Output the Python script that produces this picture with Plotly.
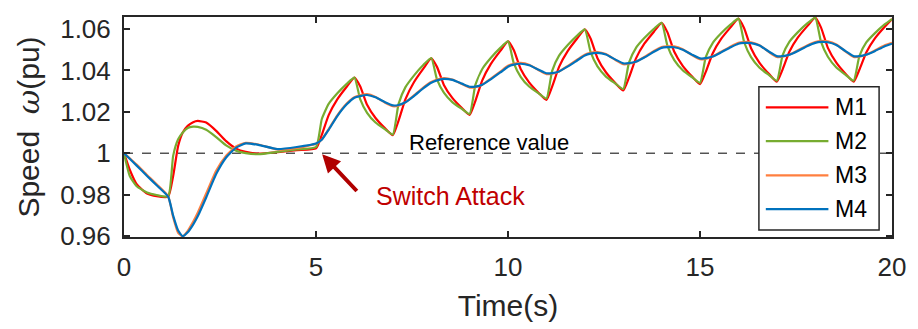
import plotly.graph_objects as go

# ---------------- data ----------------
time = [0, 0.15, 0.33, 0.6, 0.85, 1.15, 1.28, 1.41, 1.53, 1.66, 1.8, 1.92, 2.14, 2.4, 2.66, 2.92, 3.17, 3.5, 4.0, 4.5,
        5, 5.15, 5.33, 5.55, 5.8,
        6, 6.15, 6.33, 6.55, 6.8,
        7, 7.15, 7.33, 7.55, 7.8,
        8, 8.15, 8.33, 8.55, 8.8,
        9, 9.15, 9.33, 9.55, 9.8,
        10, 10.15, 10.33, 10.55, 10.8,
        11, 11.15, 11.33, 11.55, 11.8,
        12, 12.15, 12.33, 12.55, 12.8,
        13, 13.15, 13.33, 13.55, 13.8,
        14, 14.15, 14.33, 14.55, 14.8,
        15, 15.15, 15.33, 15.55, 15.8,
        16, 16.15, 16.33, 16.55, 16.8,
        17, 17.15, 17.33, 17.55, 17.8,
        18, 18.15, 18.33, 18.55, 18.8,
        19, 19.15, 19.33, 19.55, 19.8,
        20]

m1_speed = [1.0, 0.992, 0.985, 0.9805, 0.9792, 0.979, 0.989, 1.0035, 1.010, 1.0132, 1.015, 1.0156, 1.0148, 1.0108, 1.0058, 1.0022, 1.0006, 0.9998, 1.0005, 1.0015,
            1.0023, 1.0088, 1.0184, 1.0259, 1.0321,
            1.0365, 1.0323, 1.0234, 1.0170, 1.0120,
            1.0087, 1.0157, 1.0261, 1.0343, 1.0410,
            1.0458, 1.0417, 1.0330, 1.0267, 1.0218,
            1.0185, 1.0252, 1.0352, 1.0430, 1.0494,
            1.0540, 1.0498, 1.0407, 1.0342, 1.0291,
            1.0257, 1.0322, 1.0417, 1.0492, 1.0554,
            1.0598, 1.0554, 1.0459, 1.0391, 1.0338,
            1.0303, 1.0365, 1.0457, 1.0529, 1.0587,
            1.0630, 1.0585, 1.0490, 1.0422, 1.0369,
            1.0333, 1.0393, 1.0482, 1.0552, 1.0609,
            1.0650, 1.0604, 1.0507, 1.0436, 1.0382,
            1.0345, 1.0404, 1.0491, 1.0559, 1.0615,
            1.0655, 1.0608, 1.0509, 1.0438, 1.0382,
            1.0345, 1.0403, 1.0487, 1.0554, 1.0609,
            1.0648]

m2_speed = [1.0, 0.989, 0.984, 0.981, 0.9798, 0.9791, 0.9987, 1.0067, 1.0100, 1.0122, 1.0128, 1.0127, 1.0113, 1.0078, 1.0038, 1.0012, 1.0000, 0.9995, 1.0006, 1.0018,
            1.0030, 1.0164, 1.0238, 1.0288, 1.0335,
            1.0365, 1.0261, 1.0195, 1.0148, 1.0115,
            1.0090, 1.0238, 1.0319, 1.0375, 1.0427,
            1.0460, 1.0357, 1.0293, 1.0247, 1.0214,
            1.0190, 1.0330, 1.0407, 1.0460, 1.0509,
            1.0540, 1.0435, 1.0369, 1.0322, 1.0289,
            1.0264, 1.0398, 1.0471, 1.0521, 1.0568,
            1.0598, 1.0489, 1.0419, 1.0370, 1.0336,
            1.0310, 1.0438, 1.0508, 1.0556, 1.0601,
            1.0630, 1.0520, 1.0450, 1.0401, 1.0366,
            1.0340, 1.0464, 1.0532, 1.0579, 1.0622,
            1.0650, 1.0536, 1.0464, 1.0413, 1.0377,
            1.0350, 1.0472, 1.0539, 1.0585, 1.0628,
            1.0655, 1.0539, 1.0466, 1.0414, 1.0377,
            1.0350, 1.0469, 1.0535, 1.0579, 1.0621,
            1.0648]

m3_speed = [1.0, 0.9975, 0.9945, 0.9895, 0.985, 0.9792, 0.969, 0.9615, 0.9598, 0.9625, 0.9668, 0.9712, 0.9805, 0.9915, 0.9988, 1.0033, 1.0050, 1.0042, 1.0018, 1.0025,
            1.0045, 1.0066, 1.0116, 1.0182, 1.0240,
            1.0271, 1.0280, 1.0285, 1.0272, 1.0244,
            1.0227, 1.0230, 1.0246, 1.0279, 1.0318,
            1.0344, 1.0356, 1.0363, 1.0356, 1.0334,
            1.0317, 1.0319, 1.0331, 1.0360, 1.0394,
            1.0422, 1.0432, 1.0436, 1.0427, 1.0401,
            1.0382, 1.0384, 1.0395, 1.0421, 1.0452,
            1.0476, 1.0485, 1.0489, 1.0479, 1.0450,
            1.0430, 1.0432, 1.0442, 1.0465, 1.0494,
            1.0513, 1.0516, 1.0516, 1.0502, 1.0473,
            1.0454, 1.0456, 1.0467, 1.0490, 1.0516,
            1.0533, 1.0537, 1.0536, 1.0522, 1.0488,
            1.0465, 1.0466, 1.0476, 1.0497, 1.0522,
            1.0537, 1.0542, 1.0540, 1.0525, 1.0490,
            1.0465, 1.0466, 1.0476, 1.0496, 1.0520,
            1.0533]

m4_speed = [1.0, 0.9973, 0.994, 0.989, 0.9845, 0.979, 0.9698, 0.9626, 0.9599, 0.9618, 0.9655, 0.9695, 0.9786, 0.9899, 0.9979, 1.0027, 1.0047, 1.0040, 1.0020, 1.0030,
            1.0047, 1.0065, 1.0113, 1.0178, 1.0236,
            1.0268, 1.0276, 1.0281, 1.0270, 1.0246,
            1.0231, 1.0233, 1.0246, 1.0276, 1.0314,
            1.0340, 1.0352, 1.0359, 1.0354, 1.0336,
            1.0321, 1.0322, 1.0331, 1.0357, 1.0390,
            1.0418, 1.0428, 1.0432, 1.0425, 1.0403,
            1.0386, 1.0387, 1.0395, 1.0418, 1.0448,
            1.0472, 1.0481, 1.0485, 1.0477, 1.0452,
            1.0434, 1.0435, 1.0442, 1.0462, 1.0490,
            1.0509, 1.0512, 1.0512, 1.0500, 1.0475,
            1.0458, 1.0459, 1.0467, 1.0487, 1.0512,
            1.0529, 1.0533, 1.0532, 1.0520, 1.0490,
            1.0469, 1.0469, 1.0476, 1.0494, 1.0518,
            1.0533, 1.0538, 1.0536, 1.0523, 1.0492,
            1.0469, 1.0469, 1.0476, 1.0493, 1.0516,
            1.0529]

series_names = ["M1", "M2", "M3", "M4"]
series_colors = ["#FF0000", "#77AC30", "#FF7F3F", "#0072BD"]
reference_value = 1.0
x_ticks = [0, 5, 10, 15, 20]
y_ticks = [0.96, 0.98, 1.0, 1.02, 1.04, 1.06]
y_tick_text = ["0.96", "0.98", "1", "1.02", "1.04", "1.06"]

# ---------------- figure ----------------
AX = "#262626"
FONT = "Arial, Liberation Sans, Helvetica, sans-serif"

fig = go.Figure()

# reference dashed line
fig.add_trace(go.Scatter(x=[x_ticks[0], x_ticks[-1]], y=[reference_value, reference_value],
                         mode="lines", line=dict(color="black", width=1, dash="dash"),
                         showlegend=False, hoverinfo="skip"))

for name, vals, col in zip(series_names, [m1_speed, m2_speed, m3_speed, m4_speed], series_colors):
    fig.add_trace(go.Scatter(x=time, y=vals, mode="lines", name=name,
                             line=dict(color=col, width=2.2, shape="spline", smoothing=0.5),
                             showlegend=False))

# custom legend (box + long sample lines + labels), like the MATLAB legend
L_x0, L_x1, L_y0, L_y1 = 0.8267, 0.9832, 0.0317, 0.6833
line_x0, line_x1, text_x = 0.8357, 0.9172, 0.9237
entry_y = [0.5896, 0.4357, 0.2805, 0.1267]
shapes = [dict(type="rect", xref="paper", yref="paper", x0=L_x0, x1=L_x1, y0=L_y0, y1=L_y1,
               fillcolor="white", line=dict(color=AX, width=1.5), layer="above")]
annotations = []
for name, col, ey in zip(series_names, series_colors, entry_y):
    shapes.append(dict(type="line", xref="paper", yref="paper", x0=line_x0, x1=line_x1, y0=ey, y1=ey,
                       line=dict(color=col, width=2.2), layer="above"))
    annotations.append(dict(xref="paper", yref="paper", x=text_x, y=ey, text=name, showarrow=False,
                            xanchor="left", yanchor="middle", font=dict(family=FONT, size=23, color="black")))

# text annotations
annotations.append(dict(x=9.5, y=1.0053, xref="x", yref="y", text="Reference value", showarrow=False,
                        font=dict(family=FONT, size=22, color="black"), xanchor="center", yanchor="middle"))
annotations.append(dict(x=8.49, y=0.9793, xref="x", yref="y", text="Switch Attack", showarrow=False,
                        font=dict(family=FONT, size=25, color="#C00000"), xanchor="center", yanchor="middle"))
annotations.append(dict(x=5.16, y=0.9995, xref="x", yref="y", ax=6.1, ay=0.981, axref="x", ayref="y",
                        text="", showarrow=True, arrowhead=2, arrowsize=0.9, arrowwidth=4,
                        arrowcolor="#B00000"))

fig.update_layout(
    width=918, height=329,
    margin=dict(l=124, r=21, t=17, b=91),
    paper_bgcolor="white", plot_bgcolor="white",
    font=dict(family=FONT, color=AX),
    showlegend=False,
    shapes=shapes,
    annotations=annotations,
)

fig.update_xaxes(range=[0, 20], tickvals=x_ticks, ticks="inside", ticklen=6, tickwidth=2, tickcolor=AX,
                 showline=True, linecolor=AX, linewidth=2, mirror="ticks", showgrid=False, zeroline=False,
                 tickfont=dict(family=FONT, size=26, color=AX), ticklabelstandoff=6,
                 title=dict(text="Time(s)", font=dict(family=FONT, size=30, color=AX), standoff=14))
fig.update_yaxes(range=[0.9595, 1.0658], tickvals=y_ticks, ticktext=y_tick_text, ticks="inside", ticklen=6,
                 tickwidth=2, tickcolor=AX, showline=True, linecolor=AX, linewidth=2, mirror="ticks",
                 showgrid=False, zeroline=False, tickfont=dict(family=FONT, size=26, color=AX),
                 ticklabelstandoff=6,
                 title=dict(text="Speed\u00a0\u00a0<span style=\"font-family:'DejaVu Serif'\"><i>ω</i></span>(pu)",
                            font=dict(family=FONT, size=30, color=AX), standoff=12))

fig.write_html("out.html")
